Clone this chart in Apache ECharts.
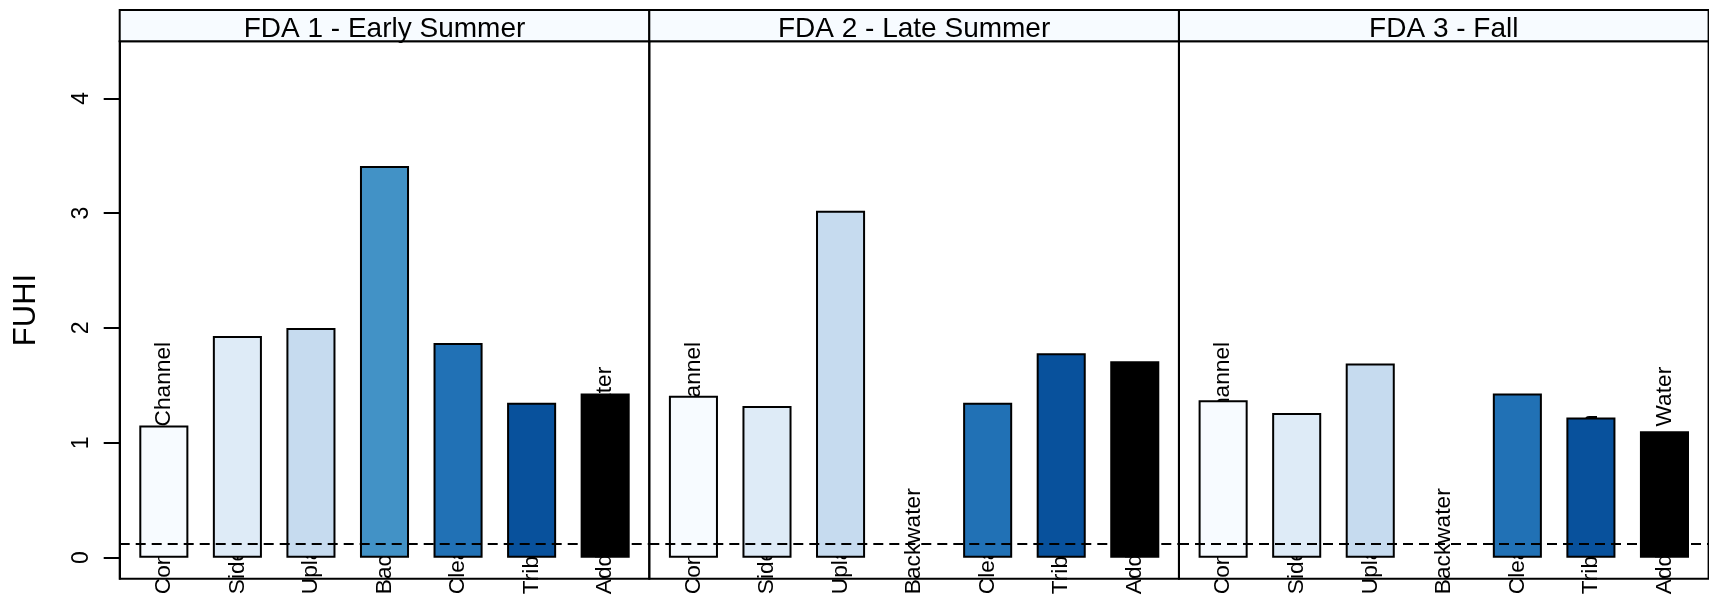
<!DOCTYPE html>
<html><head><meta charset="utf-8">
<script src="https://cdn.jsdelivr.net/npm/echarts@6/dist/echarts.min.js"></script>
<style>html,body{margin:0;padding:0;background:#fff}#c{width:1709px;height:599px}</style>
</head><body><div id="c"></div>
<script>
// ---- data ----
const categories = ["Connected Side Channel", "Side Channel", "Upland Lake", "Backwater", "Clearwater", "Tributary Junction", "Additional Open Water"];
const panelTitles = ["FDA 1 - Early Summer", "FDA 2 - Late Summer", "FDA 3 - Fall"];
const fda1 = [1.15, 1.93, 2.00, 3.41, 1.87, 1.35, 1.43];
const fda2 = [1.41, 1.32, 3.02, null, 1.35, 1.78, 1.71];
const fda3 = [1.37, 1.26, 1.69, null, 1.43, 1.22, 1.10];
const yTicks = [0, 1, 2, 3, 4];
const refLine = 0.12;
const yName = "FUHI";

// ---- style ----
const barColors = ["#F7FBFF", "#DEEBF7", "#C6DBEF", "#4292C6", "#2171B5", "#08519C", "#000000"];
const FONT = "'Liberation Sans', Arial, Helvetica, sans-serif";
const panels = [fda1, fda2, fda3];
const boxLeft = [119.7, 649.3, 1179];
const boxW = 529.6, boxTop = 41.3, boxH = 537.4, stripTop = 10;

const chart = echarts.init(document.getElementById('c'), null, {renderer: 'canvas'});
const xPos = categories.map((c, i) => i + 1);

const grid = [], xAxis = [], yAxis = [], series = [], graphic = [];
panels.forEach((vals, p) => {
  grid.push({left: boxLeft[p], top: boxTop, width: boxW, height: boxH, show: true,
    borderColor: '#000', borderWidth: 2, backgroundColor: 'transparent', containLabel: false});
  xAxis.push({type: 'value', gridIndex: p, min: 0.4, max: xPos.length + 0.6,
    axisLine: {show: false}, axisTick: {show: false}, splitLine: {show: false},
    axisLabel: {customValues: xPos, formatter: v => categories[Math.round(v) - 1] || '',
      rotate: 90, inside: true, margin: -15.5, color: '#000', fontSize: 22.7, fontFamily: FONT,
      showMinLabel: true, showMaxLabel: true, hideOverlap: false}});
  yAxis.push({type: 'value', gridIndex: p, min: -0.183, max: 4.496,
    show: p === 0,
    name: p === 0 ? yName : '', nameLocation: 'middle', nameRotate: 90, nameGap: 78,
    nameTextStyle: {fontSize: 31, color: '#000', fontFamily: FONT},
    axisLine: {show: true, lineStyle: {color: '#000', width: 2}},
    axisTick: {show: true, customValues: yTicks, length: 16, lineStyle: {color: '#000', width: 2}},
    axisLabel: {customValues: yTicks, rotate: 90, margin: 27, color: '#000', fontSize: 23, fontFamily: FONT},
    splitLine: {show: false}});
  series.push({type: 'bar', xAxisIndex: p, yAxisIndex: p, barWidth: '66.7%',
    data: vals.map((v, i) => ({value: [xPos[i], v == null ? '-' : v],
      itemStyle: {color: barColors[i], borderColor: '#000', borderWidth: 2}})),
    markLine: {silent: true, symbol: ['none', 'none'], label: {show: false},
      lineStyle: {color: '#000', type: [10, 6], width: 2.2}, data: [{yAxis: refLine}]},
    animation: false});
  graphic.push({type: 'rect', shape: {x: boxLeft[p], y: stripTop, width: boxW, height: boxTop - stripTop},
    style: {fill: '#F7FBFF', stroke: '#000', lineWidth: 2}, z: 10});
  graphic.push({type: 'text', x: boxLeft[p] + boxW / 2, y: 29.3,
    style: {text: panelTitles[p], font: "28px " + FONT, fill: '#000', textAlign: 'center', textVerticalAlign: 'middle'}, z: 11});
});

chart.setOption({animation: false, backgroundColor: '#fff', textStyle: {fontFamily: FONT},
  grid, xAxis, yAxis, series, graphic});
</script></body></html>
